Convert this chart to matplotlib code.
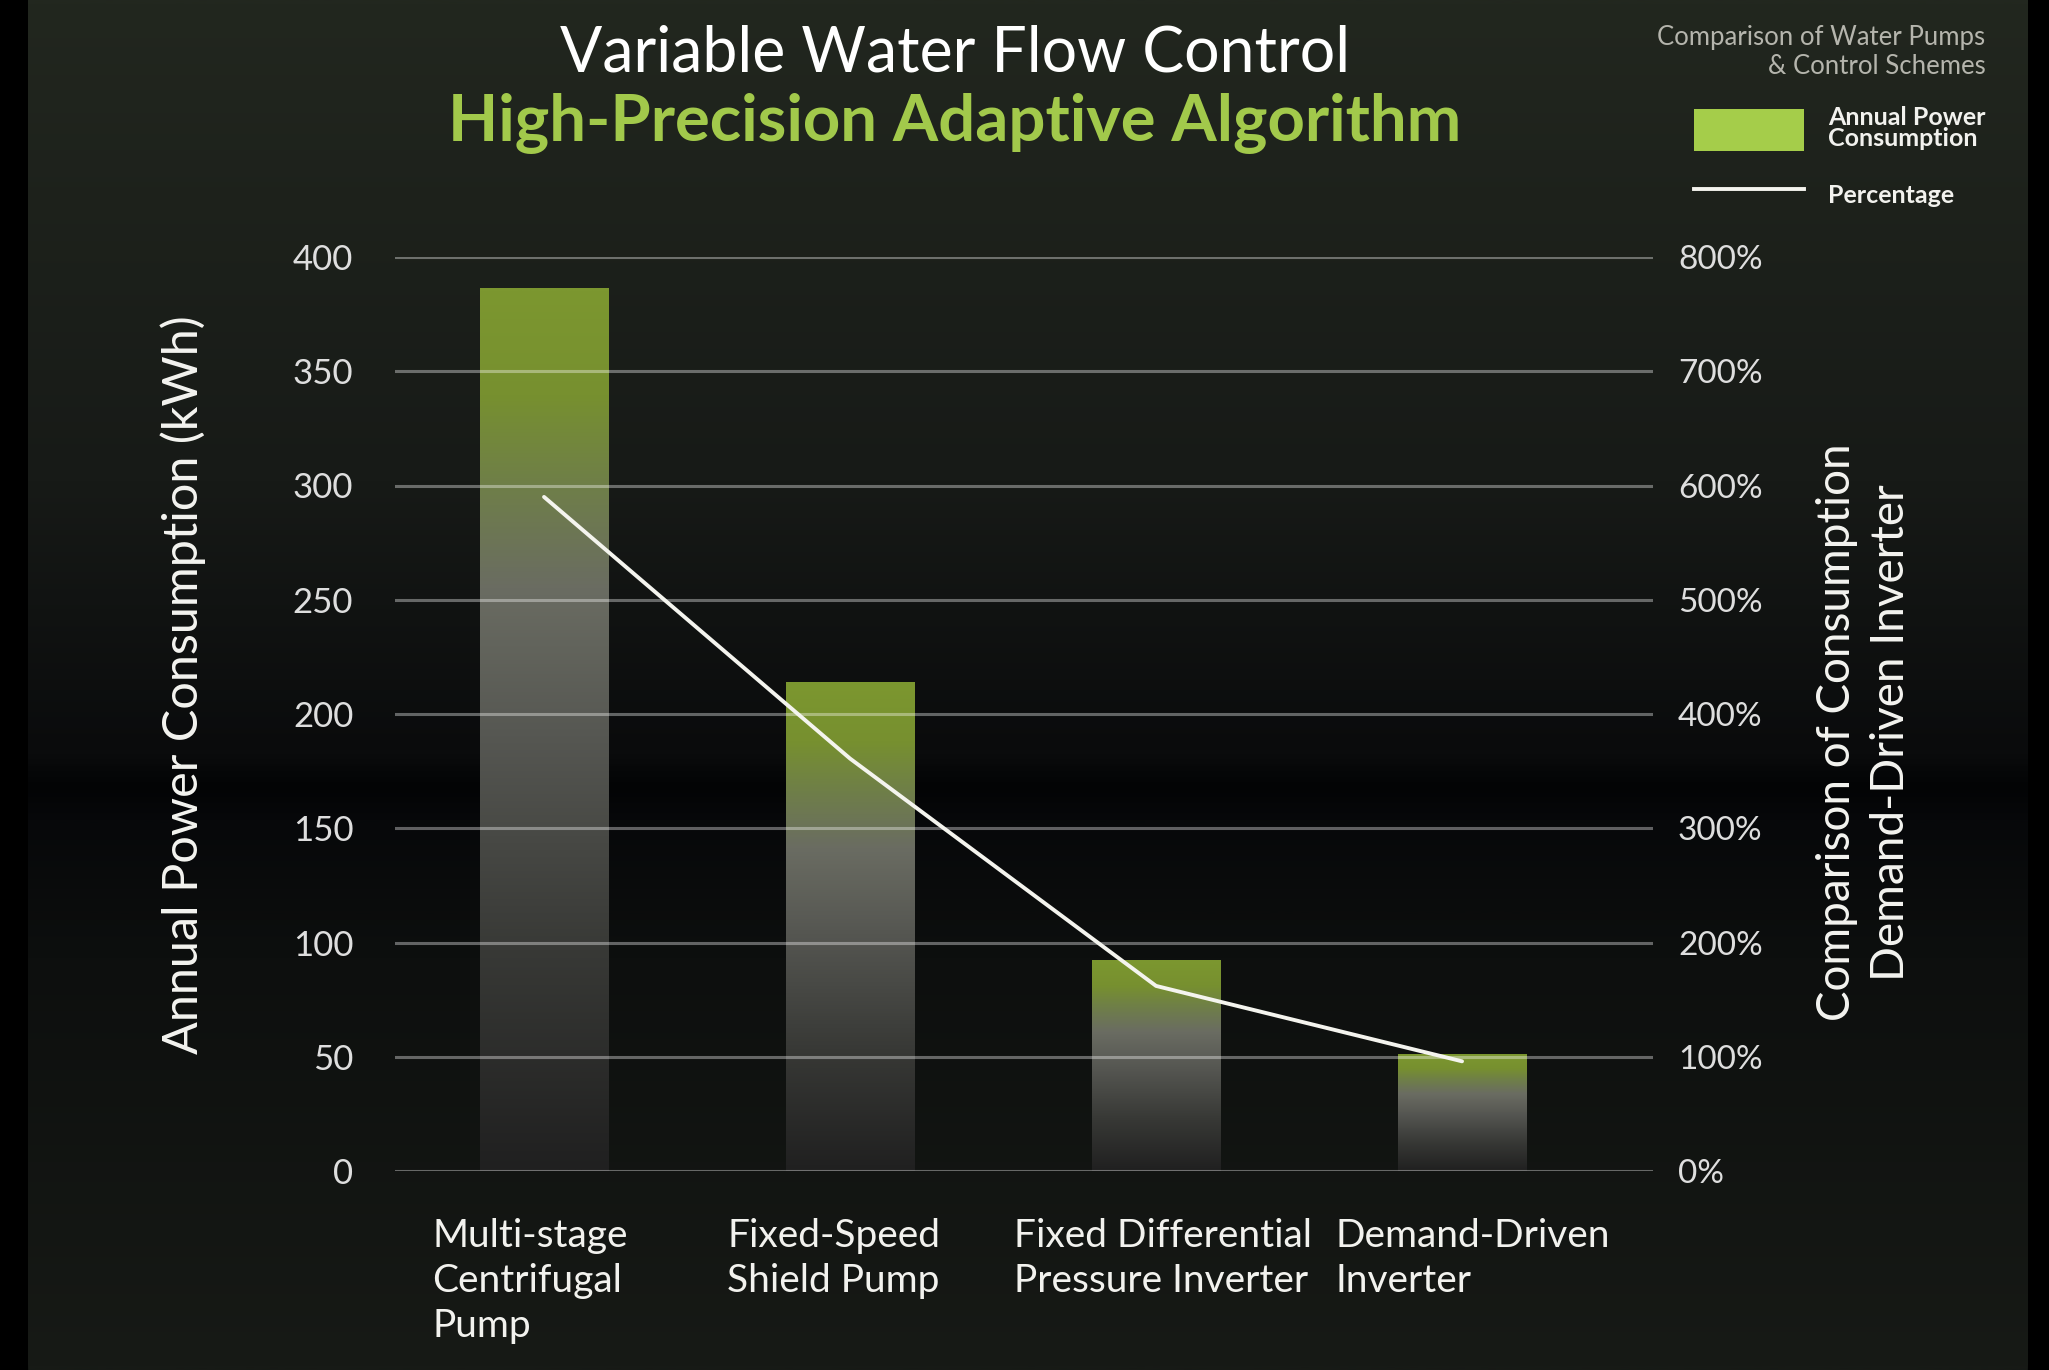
import numpy as np
import matplotlib
matplotlib.use("Agg")
import matplotlib.pyplot as plt
from matplotlib.colors import LinearSegmentedColormap
from matplotlib.patches import FancyBboxPatch, Patch
from matplotlib.lines import Line2D
from matplotlib.transforms import ScaledTranslation

plt.rcParams['font.family'] = ['Lato', 'DejaVu Sans']

# data
categories = ["Multi-stage\nCentrifugal\nPump", "Fixed-Speed\nShield Pump",
              "Fixed Differential\nPressure Inverter", "Demand-Driven\nInverter"]
consumption_kwh = [386, 214, 92, 51]
percentage = [590, 361, 162, 96]
left_ticks = [0, 50, 100, 150, 200, 250, 300, 350, 400]
right_ticks = [0, 100, 200, 300, 400, 500, 600, 700, 800]

W, H = 2049, 1370
fig = plt.figure(figsize=(W / 100, H / 100), dpi=100, facecolor='black')

# background panel with vertical gradient and rounded bottom corners
bg = fig.add_axes([0, 0, 1, 1], zorder=-10)
bg.set_xlim(0, W)
bg.set_ylim(0, H)
bg.axis('off')
bg_cmap = LinearSegmentedColormap.from_list('bg', [
    (0.00, '#171a16'), (0.30, '#0d0f0e'), (0.40, '#07080a'),
    (0.425, '#030405'), (0.45, '#0a0b0c'), (0.65, '#171a17'),
    (1.00, '#22271f')])
grad = np.linspace(0, 1, 512).reshape(-1, 1)
panel = FancyBboxPatch((28, -40), 2000, H + 100, boxstyle="round,pad=0,rounding_size=45",
                       facecolor='none', edgecolor='none')
bg.add_patch(panel)
img = bg.imshow(grad, extent=(28, 2028, 0, H), origin='lower', aspect='auto', cmap=bg_cmap)
img.set_clip_path(panel)

ax = fig.add_axes([395 / W, 1 - 1171 / H, (1653 - 395) / W, (1171 - 257) / H])
ax.patch.set_visible(False)
x = np.arange(len(categories))
bar_w = 0.42

bars = ax.bar(x, consumption_kwh, width=bar_w, color='none', edgecolor='none')
bar_cmap = LinearSegmentedColormap.from_list('bar', [
    (0.00, '#202020'), (0.25, '#383936'), (0.50, '#575853'),
    (0.66, '#6a6c62'), (0.78, '#6f7f48'), (0.88, '#77902f'), (1.00, '#7c9730')])
for b in bars:
    im = ax.imshow(grad, extent=(b.get_x(), b.get_x() + b.get_width(), 0, b.get_height()),
                   origin='lower', aspect='auto', cmap=bar_cmap, zorder=1)

ax.set_xlim(-0.487, 3.624)
ax.set_ylim(0, 400)
ax.set_yticks(left_ticks)
ax.yaxis.grid(True, color='white', alpha=0.36, linewidth=2.2)
ax.set_axisbelow(False)
for s in ax.spines.values():
    s.set_visible(False)
ax.tick_params(axis='y', length=0, pad=30, labelsize=25, labelcolor='#dedede')
ax.tick_params(axis='x', length=0, pad=34, labelsize=28, labelcolor='#f2f2ee')
ax.set_xticks(x, labels=categories, ha='left', va='top', linespacing=1.3)
# left edge of each category label relative to its bar centre (pixels)
label_shift = [-112, -123, -142, -127]
for lab, dx in zip(ax.get_xticklabels(), label_shift):
    lab.set_transform(lab.get_transform() + ScaledTranslation(dx / 100, 0, fig.dpi_scale_trans))

ax.set_ylabel("Annual Power Consumption (kWh)", fontsize=35, color='#f4f4f0')
ax.yaxis.set_label_coords(-0.168, 0.532)
ax.yaxis.label.set_va('center')

ax2 = ax.twinx()
ax2.set_ylim(0, 800)
ax2.set_yticks(right_ticks, labels=[f"{t}%" for t in right_ticks])
for s in ax2.spines.values():
    s.set_visible(False)
ax2.tick_params(axis='y', length=0, pad=18, labelsize=24, labelcolor='#dedede')
ax2.plot(x, percentage, color='#f4f4ee', linewidth=2.8, solid_capstyle='round')
ax2.set_ylabel("Comparison of Consumption\nDemand-Driven Inverter", fontsize=33,
               color='#f4f4f0', linespacing=1.35)
ax2.yaxis.set_label_coords(1.168, 0.48)
ax2.yaxis.label.set_va('center')

fig.text(955 / W, 1 - 53 / H, "Variable Water Flow Control", ha='center', va='center',
         fontsize=45, color='white')
fig.text(955 / W, 1 - 123 / H, "High-Precision Adaptive Algorithm", ha='center', va='center',
         fontsize=47, color='#a2c94b', fontweight='bold')

handles = [Patch(facecolor='#a5cd4a', edgecolor='none'),
           Line2D([0], [0], color='#f4f4ee', linewidth=2.8)]
leg = fig.legend(handles, ["Annual Power\nConsumption", "Percentage"],
                 title="Comparison of Water Pumps\n& Control Schemes", alignment='right',
                 loc='upper right', bbox_to_anchor=(2008 / W, 1 - 2 / H),
                 frameon=False, fontsize=18, title_fontsize=18.5,
                 handlelength=4.4, handleheight=2.2, labelspacing=0.95, handletextpad=0.95)
leg.get_title().set_color('#b5b5ad')
leg.get_title().set_multialignment('right')
leg._legend_box.sep = 20
for t in leg.get_texts():
    t.set_color('#f2f2ee')
    t.set_fontweight('bold')
    t.set_linespacing(0.9)

fig.savefig('out.png', dpi=100, facecolor='black')
